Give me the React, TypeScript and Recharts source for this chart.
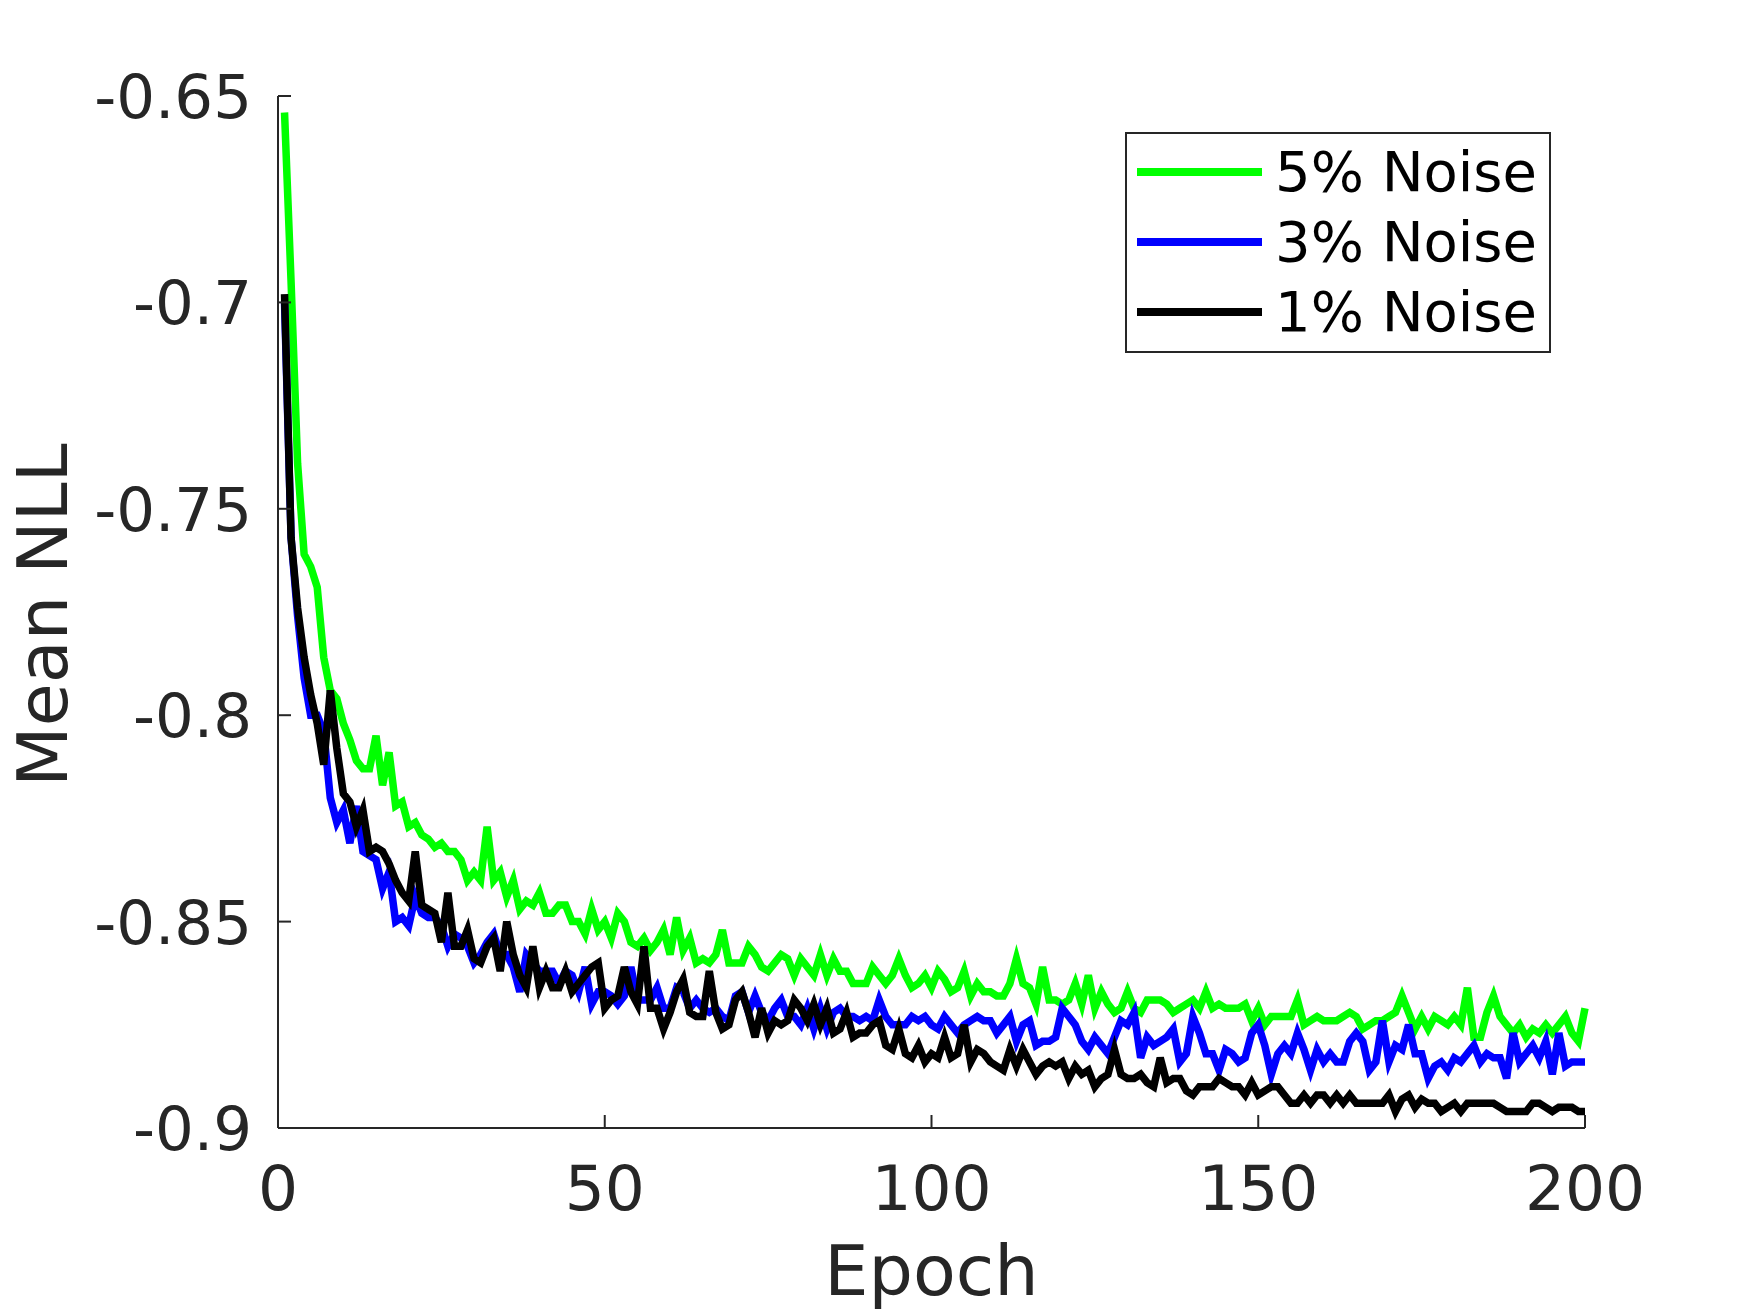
import { LineChart, Line, XAxis, YAxis, Legend, Label } from 'recharts';

// Mean NLL per epoch (epochs 1..200)
const NOISE_5 = [
    -0.654, -0.695, -0.739, -0.761, -0.764, -0.769, -0.786, -0.794, -0.796, -0.802,
    -0.806, -0.811, -0.813, -0.813, -0.805, -0.817, -0.809, -0.822, -0.821, -0.827,
    -0.826, -0.829, -0.830, -0.832, -0.831, -0.833, -0.833, -0.835, -0.840, -0.838,
    -0.840, -0.827, -0.840, -0.838, -0.844, -0.840, -0.847, -0.845, -0.846, -0.843,
    -0.848, -0.848, -0.846, -0.846, -0.850, -0.850, -0.853, -0.847, -0.852, -0.850,
    -0.854, -0.848, -0.850, -0.855, -0.856, -0.854, -0.857, -0.855, -0.852, -0.858,
    -0.849, -0.857, -0.854, -0.860, -0.859, -0.860, -0.858, -0.852, -0.860, -0.860,
    -0.860, -0.856, -0.858, -0.861, -0.862, -0.860, -0.858, -0.859, -0.863, -0.859,
    -0.861, -0.863, -0.858, -0.863, -0.859, -0.862, -0.862, -0.865, -0.865, -0.865,
    -0.861, -0.863, -0.865, -0.863, -0.859, -0.863, -0.866, -0.865, -0.863, -0.866,
    -0.862, -0.864, -0.867, -0.866, -0.862, -0.868, -0.865, -0.867, -0.867, -0.868,
    -0.868, -0.865, -0.859, -0.865, -0.866, -0.870, -0.861, -0.869, -0.869, -0.870,
    -0.869, -0.865, -0.870, -0.863, -0.871, -0.867, -0.870, -0.872, -0.871, -0.867,
    -0.871, -0.872, -0.869, -0.869, -0.869, -0.870, -0.872, -0.871, -0.870, -0.869,
    -0.871, -0.867, -0.871, -0.870, -0.871, -0.871, -0.871, -0.870, -0.874, -0.871,
    -0.875, -0.873, -0.873, -0.873, -0.873, -0.869, -0.875, -0.874, -0.873, -0.874,
    -0.874, -0.874, -0.873, -0.872, -0.873, -0.876, -0.875, -0.874, -0.874, -0.873,
    -0.872, -0.868, -0.872, -0.876, -0.873, -0.876, -0.873, -0.874, -0.875, -0.873,
    -0.875, -0.866, -0.878, -0.878, -0.872, -0.868, -0.873, -0.875, -0.877, -0.875,
    -0.878, -0.876, -0.877, -0.875, -0.877, -0.875, -0.873, -0.877, -0.879, -0.871,
];

const NOISE_3 = [
    -0.700, -0.757, -0.776, -0.791, -0.800, -0.800, -0.804, -0.820, -0.826, -0.823,
    -0.831, -0.822, -0.833, -0.834, -0.835, -0.842, -0.838, -0.850, -0.849, -0.851,
    -0.844, -0.848, -0.849, -0.849, -0.851, -0.856, -0.853, -0.854, -0.856, -0.860,
    -0.858, -0.855, -0.853, -0.858, -0.858, -0.861, -0.867, -0.858, -0.860, -0.862,
    -0.862, -0.862, -0.865, -0.862, -0.863, -0.867, -0.861, -0.870, -0.867, -0.867,
    -0.868, -0.870, -0.868, -0.861, -0.869, -0.869, -0.869, -0.866, -0.871, -0.871,
    -0.866, -0.867, -0.871, -0.869, -0.871, -0.872, -0.871, -0.873, -0.874, -0.868,
    -0.867, -0.872, -0.868, -0.872, -0.874, -0.871, -0.869, -0.873, -0.873, -0.875,
    -0.871, -0.876, -0.871, -0.876, -0.872, -0.871, -0.873, -0.873, -0.874, -0.873,
    -0.874, -0.869, -0.873, -0.875, -0.875, -0.875, -0.873, -0.874, -0.873, -0.875,
    -0.876, -0.873, -0.875, -0.877, -0.875, -0.874, -0.873, -0.874, -0.874, -0.877,
    -0.875, -0.873, -0.879, -0.875, -0.874, -0.880, -0.879, -0.879, -0.878, -0.871,
    -0.873, -0.875, -0.879, -0.881, -0.878, -0.880, -0.882, -0.878, -0.874, -0.875,
    -0.872, -0.883, -0.878, -0.880, -0.879, -0.878, -0.876, -0.884, -0.882, -0.873,
    -0.877, -0.882, -0.882, -0.886, -0.881, -0.882, -0.884, -0.883, -0.877, -0.875,
    -0.880, -0.887, -0.882, -0.880, -0.882, -0.877, -0.881, -0.886, -0.881, -0.884,
    -0.882, -0.884, -0.884, -0.879, -0.877, -0.879, -0.886, -0.884, -0.874, -0.884,
    -0.880, -0.881, -0.875, -0.882, -0.882, -0.888, -0.885, -0.884, -0.886, -0.883,
    -0.884, -0.882, -0.880, -0.884, -0.882, -0.883, -0.883, -0.888, -0.877, -0.884,
    -0.882, -0.880, -0.883, -0.879, -0.887, -0.877, -0.885, -0.884, -0.884, -0.884,
];

const NOISE_1 = [
    -0.698, -0.757, -0.774, -0.786, -0.795, -0.802, -0.812, -0.794, -0.808, -0.819,
    -0.821, -0.827, -0.823, -0.833, -0.832, -0.833, -0.836, -0.840, -0.843, -0.845,
    -0.833, -0.846, -0.847, -0.848, -0.855, -0.843, -0.856, -0.856, -0.852, -0.859,
    -0.860, -0.856, -0.854, -0.862, -0.850, -0.858, -0.863, -0.866, -0.856, -0.866,
    -0.862, -0.866, -0.866, -0.862, -0.867, -0.865, -0.863, -0.861, -0.860, -0.871,
    -0.869, -0.868, -0.861, -0.867, -0.870, -0.856, -0.871, -0.871, -0.876, -0.872,
    -0.867, -0.864, -0.872, -0.873, -0.873, -0.862, -0.872, -0.876, -0.875, -0.869,
    -0.867, -0.872, -0.878, -0.871, -0.877, -0.874, -0.875, -0.874, -0.869, -0.871,
    -0.874, -0.870, -0.875, -0.871, -0.877, -0.876, -0.872, -0.878, -0.877, -0.877,
    -0.875, -0.874, -0.880, -0.881, -0.876, -0.882, -0.883, -0.880, -0.884, -0.882,
    -0.883, -0.878, -0.883, -0.882, -0.875, -0.884, -0.881, -0.882, -0.884, -0.885,
    -0.886, -0.881, -0.885, -0.881, -0.884, -0.887, -0.885, -0.884, -0.885, -0.884,
    -0.888, -0.885, -0.887, -0.886, -0.890, -0.888, -0.887, -0.881, -0.887, -0.888,
    -0.888, -0.887, -0.889, -0.890, -0.883, -0.889, -0.888, -0.888, -0.891, -0.892,
    -0.890, -0.890, -0.890, -0.888, -0.889, -0.890, -0.890, -0.892, -0.889, -0.892,
    -0.891, -0.890, -0.890, -0.892, -0.894, -0.894, -0.892, -0.894, -0.892, -0.892,
    -0.894, -0.892, -0.894, -0.892, -0.894, -0.894, -0.894, -0.894, -0.894, -0.892,
    -0.896, -0.893, -0.892, -0.895, -0.893, -0.894, -0.894, -0.896, -0.895, -0.894,
    -0.896, -0.894, -0.894, -0.894, -0.894, -0.894, -0.895, -0.896, -0.896, -0.896,
    -0.896, -0.894, -0.894, -0.895, -0.896, -0.895, -0.895, -0.895, -0.896, -0.896,
];

const X_TICKS = [0, 50, 100, 150, 200];
const Y_TICKS = [-0.9, -0.85, -0.8, -0.75, -0.7, -0.65];

const SERIES = [
    { key: 'n5', name: '5% Noise', color: '#00ff00' },
    { key: 'n3', name: '3% Noise', color: '#0000ff' },
    { key: 'n1', name: '1% Noise', color: '#000000' },
];

const chartData = NOISE_5.map((v, i) => ({
    epoch: i + 1,
    n5: v,
    n3: NOISE_3[i],
    n1: NOISE_1[i],
}));

const FONT = '"DejaVu Sans", sans-serif';
const AXIS = '#262626';
const TICK_LEN = 13;
const Y_MARGIN = 26;
const X_MARGIN = 36;

// MATLAB-style inward ticks: draw the tick mark ourselves next to the label
const YTick = (props: any) => {
    const { x, y, payload } = props;
    const ax = x + Y_MARGIN;
    return (
        <g>
            <line x1={ax} x2={ax + TICK_LEN} y1={y} y2={y} stroke={AXIS} strokeWidth={2} />
            <text x={x} y={y} dy="0.36em" textAnchor="end" fill={AXIS} fontSize={61} fontFamily={FONT}>
                {payload.value}
            </text>
        </g>
    );
};

const XTick = (props: any) => {
    const { x, y, payload } = props;
    const ay = y - X_MARGIN;
    return (
        <g>
            <line x1={x} x2={x} y1={ay} y2={ay - TICK_LEN} stroke={AXIS} strokeWidth={2} />
            <text x={x} y={y} dy="0.73em" textAnchor="middle" fill={AXIS} fontSize={63} fontFamily={FONT}>
                {payload.value}
            </text>
        </g>
    );
};

const renderLegend = () => (
    <div
        style={{
            boxSizing: 'border-box',
            width: 426,
            height: 221,
            border: `2px solid ${AXIS}`,
            background: '#fff',
            paddingTop: 3,
            fontFamily: FONT,
        }}
    >
        {SERIES.map((s) => (
            <div key={s.key} style={{ display: 'flex', alignItems: 'center', height: 70 }}>
                <div style={{ marginLeft: 10, width: 125, height: 8, background: s.color }} />
                <span style={{ marginLeft: 13, fontSize: 56, lineHeight: '70px', color: '#000' }}>{s.name}</span>
            </div>
        ))}
    </div>
);

export default function App() {
    return (
        <div style={{ position: 'absolute', left: 0, top: 0, width: 1750, height: 1313, background: '#fff' }}>
            <LineChart
                width={1750}
                height={1313}
                data={chartData}
                margin={{ top: 96, right: 165, left: 0, bottom: 0 }}
            >
                <XAxis
                    dataKey="epoch"
                    type="number"
                    domain={[0, 200]}
                    ticks={X_TICKS}
                    height={185}
                    stroke={AXIS}
                    axisLine={{ stroke: AXIS, strokeWidth: 2 }}
                    tickLine={false}
                    tickSize={0}
                    tickMargin={X_MARGIN}
                    tick={<XTick />}
                    interval={0}
                >
                    <Label
                        content={({ viewBox }: any) => (
                            <text
                                x={viewBox.x + viewBox.width / 2}
                                y={viewBox.y + 167}
                                textAnchor="middle"
                                fill={AXIS}
                                fontSize={70}
                                fontFamily={FONT}
                            >
                                Epoch
                            </text>
                        )}
                    />
                </XAxis>
                <YAxis
                    type="number"
                    domain={[-0.9, -0.65]}
                    ticks={Y_TICKS}
                    width={278}
                    axisLine={{ stroke: AXIS, strokeWidth: 2 }}
                    tickLine={false}
                    tickSize={0}
                    tickMargin={Y_MARGIN}
                    tick={<YTick />}
                    interval={0}
                >
                    <Label
                        content={({ viewBox }: any) => {
                            const cx = viewBox.x + 67;
                            const cy = viewBox.y + viewBox.height / 2 + 3;
                            return (
                                <text
                                    x={cx}
                                    y={cy}
                                    transform={`rotate(-90, ${cx}, ${cy})`}
                                    textAnchor="middle"
                                    fill={AXIS}
                                    fontSize={70}
                                    fontFamily={FONT}
                                >
                                    Mean NLL
                                </text>
                            );
                        }}
                    />
                </YAxis>
                {SERIES.map((s) => (
                    <Line
                        key={s.key}
                        type="linear"
                        dataKey={s.key}
                        name={s.name}
                        stroke={s.color}
                        strokeWidth={7.5}
                        dot={false}
                        activeDot={false}
                        isAnimationActive={false}
                    />
                ))}
                <Legend
                    layout="vertical"
                    align="center"
                    verticalAlign="middle"
                    wrapperStyle={{ left: 1125, top: 132, width: 426, height: 221 }}
                    content={renderLegend}
                />
            </LineChart>
        </div>
    );
}
